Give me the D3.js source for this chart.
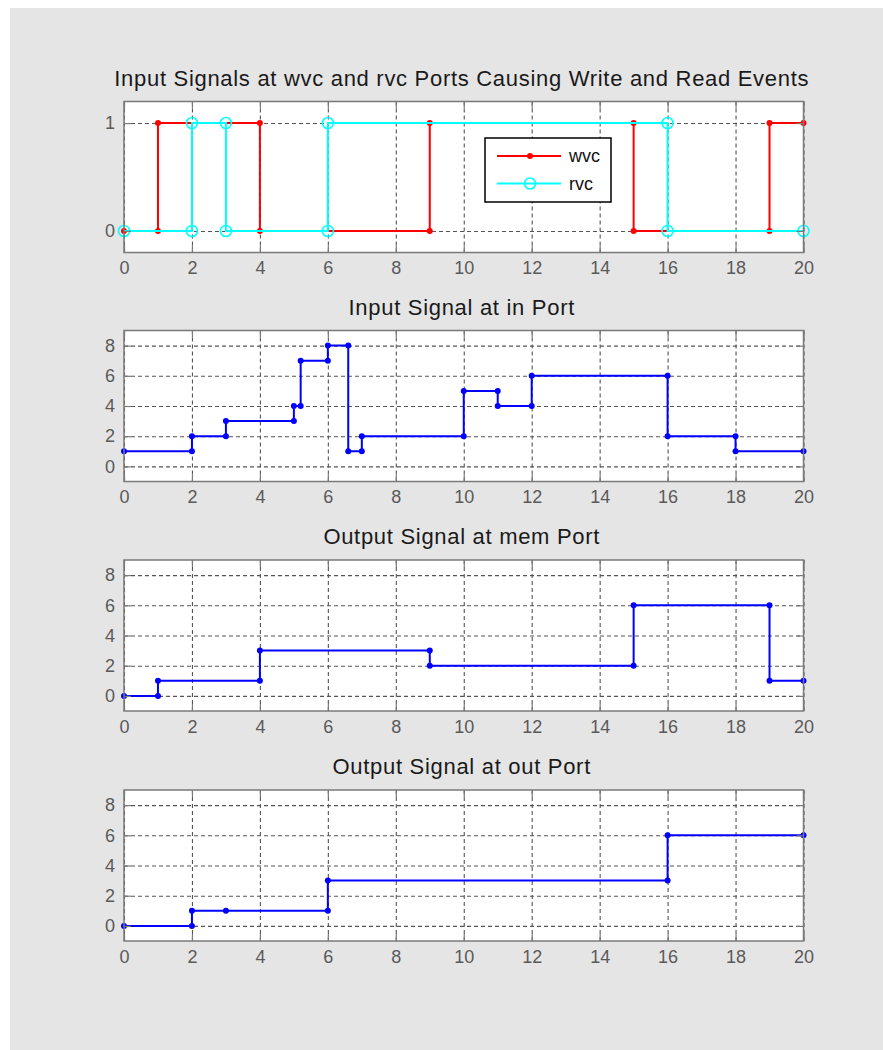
<!DOCTYPE html>
<html lang="en">
<head>
  <meta charset="UTF-8">
  <title>Write and Read Events</title>
  <style>
    body { margin: 0; background: #fff; font-family: "Liberation Sans", Arial, sans-serif; }
    .grid line { stroke: #555; stroke-width: 1.1; stroke-dasharray: 4,3; }
    .tick-axis line { stroke: #7a7a7a; stroke-width: 1.2; }
    .tick-axis text { fill: #5a5a5a; font-size: 18px; font-family: "Liberation Sans", Arial, sans-serif; }
    .title { fill: #1a1a1a; font-size: 22px; text-anchor: middle; letter-spacing: 0.7px; }
  </style>
  <script src="https://d3js.org/d3.v7.min.js"></script>
</head>
<body>
  <div id="chart"></div>
  <script>
    // stair vertices as recorded (time, value)
    const wvcT = [0, 1, 1, 4, 4, 9, 9, 15, 15, 19, 19, 20];
    const wvcV = [0, 0, 1, 1, 0, 0, 1, 1, 0, 0, 1, 1];
    const rvcT = [0, 2, 2, 3, 3, 6, 6, 16, 16, 20];
    const rvcV = [0, 0, 1, 1, 0, 0, 1, 1, 0, 0];
    const inT = [0, 2, 2, 3, 3, 5, 5, 5.2, 5.2, 6, 6, 6.6, 6.6, 7, 7, 10, 10, 11, 11, 12, 12, 16, 16, 18, 18, 20];
    const inV = [1, 1, 2, 2, 3, 3, 4, 4, 7, 7, 8, 8, 1, 1, 2, 2, 5, 5, 4, 4, 6, 6, 2, 2, 1, 1];
    const memT = [0, 1, 1, 4, 4, 9, 9, 15, 15, 19, 19, 20];
    const memV = [0, 0, 1, 1, 3, 3, 2, 2, 6, 6, 1, 1];
    const outT = [0, 2, 2, 3, 6, 6, 16, 16, 20];
    const outV = [0, 0, 1, 1, 1, 3, 3, 6, 6];

    const xTicks = [0, 2, 4, 6, 8, 10, 12, 14, 16, 18, 20];
    const eventTicks = [0, 1];
    const levelTicks = [0, 2, 4, 6, 8];

    const titles = [
      "Input Signals at wvc and rvc Ports Causing Write and Read Events",
      "Input Signal at in Port",
      "Output Signal at mem Port",
      "Output Signal at out Port"
    ];

    const W = 883, H = 1050;
    const left = 124, right = 803.5;
    const tops = [101.5, 330.5, 560, 790];
    const ph = 151;

    const svg = d3.select("#chart").append("svg")
        .attr("width", W).attr("height", H);

    svg.append("rect").attr("x", 10).attr("y", 8)
        .attr("width", W - 10).attr("height", H - 8).attr("fill", "#e5e5e5");

    const x = d3.scaleLinear().domain([0, 20]).range([left, right]);
    const fmt = d3.format("d");

    const panels = [
      { yDomain: [-0.2, 1.2], yTicks: eventTicks, series: [
        { t: wvcT, v: wvcV, color: "#ff0000", marker: "dot" },
        { t: rvcT, v: rvcV, color: "#00ffff", marker: "circle" }] },
      { yDomain: [-1, 9], yTicks: levelTicks, series: [{ t: inT, v: inV, color: "#0000ff", marker: "dot" }] },
      { yDomain: [-1, 9], yTicks: levelTicks, series: [{ t: memT, v: memV, color: "#0000ff", marker: "dot" }] },
      { yDomain: [-1, 9], yTicks: levelTicks, series: [{ t: outT, v: outV, color: "#0000ff", marker: "dot" }] }
    ];

    panels.forEach((p, i) => {
      const top = tops[i], bottom = top + ph;
      const y = d3.scaleLinear().domain(p.yDomain).range([bottom, top]);
      const g = svg.append("g");

      g.append("rect").attr("x", left).attr("y", top)
          .attr("width", right - left).attr("height", ph).attr("fill", "#fff");

      // dashed grid
      g.append("g").attr("class", "grid")
          .attr("transform", `translate(0,${bottom})`)
          .call(d3.axisBottom(x).tickValues(xTicks).tickSize(-ph).tickFormat(""))
          .call(s => s.select(".domain").remove());
      g.append("g").attr("class", "grid")
          .attr("transform", `translate(${left},0)`)
          .call(d3.axisLeft(y).tickValues(p.yTicks).tickSize(-(right - left)).tickFormat(""))
          .call(s => s.select(".domain").remove());

      // data
      p.series.forEach(s => {
        const pts = s.t.map((t, k) => [t, s.v[k]]);
        g.append("path")
            .attr("d", d3.line().x(d => x(d[0])).y(d => y(d[1]))(pts))
            .attr("fill", "none").attr("stroke", s.color).attr("stroke-width", 2);
        g.selectAll(null).data(pts).join("circle")
            .attr("cx", d => x(d[0])).attr("cy", d => y(d[1]))
            .attr("r", s.marker === "circle" ? 5.5 : 3)
            .attr("fill", s.marker === "circle" ? "none" : s.color)
            .attr("stroke", s.color)
            .attr("stroke-width", s.marker === "circle" ? 1.6 : 0);
      });

      // ticks and labels
      g.append("g").attr("class", "tick-axis")
          .attr("transform", `translate(0,${bottom})`)
          .call(d3.axisBottom(x).tickValues(xTicks).tickSize(-7).tickPadding(9).tickFormat(fmt))
          .call(s => s.select(".domain").remove());
      g.append("g").attr("class", "tick-axis")
          .attr("transform", `translate(0,${top})`)
          .call(d3.axisTop(x).tickValues(xTicks).tickSize(-7).tickFormat(""))
          .call(s => s.select(".domain").remove());
      g.append("g").attr("class", "tick-axis")
          .attr("transform", `translate(${left},0)`)
          .call(d3.axisLeft(y).tickValues(p.yTicks).tickSize(-7).tickPadding(9).tickFormat(fmt))
          .call(s => s.select(".domain").remove());
      g.append("g").attr("class", "tick-axis")
          .attr("transform", `translate(${right},0)`)
          .call(d3.axisRight(y).tickValues(p.yTicks).tickSize(-7).tickFormat(""))
          .call(s => s.select(".domain").remove());

      g.append("rect").attr("x", left).attr("y", top)
          .attr("width", right - left).attr("height", ph)
          .attr("fill", "none").attr("stroke", "#7a7a7a").attr("stroke-width", 1.5);

      g.append("text").attr("class", "title")
          .attr("x", (left + right) / 2 - 2).attr("y", top - 16)
          .text(titles[i]);

      if (i === 0) {
        const lg = g.append("g").attr("transform", "translate(485,138)");
        lg.append("rect").attr("width", 126).attr("height", 64)
            .attr("fill", "#fff").attr("stroke", "#000").attr("stroke-width", 1.5);
        p.series.forEach((s, k) => {
          const ly = 18 + k * 27.5;
          lg.append("line").attr("x1", 12).attr("x2", 76).attr("y1", ly).attr("y2", ly)
              .attr("stroke", s.color).attr("stroke-width", 2);
          lg.append("circle").attr("cx", 45).attr("cy", ly)
              .attr("r", s.marker === "circle" ? 5.5 : 3)
              .attr("fill", s.marker === "circle" ? "none" : s.color)
              .attr("stroke", s.color).attr("stroke-width", s.marker === "circle" ? 1.6 : 0);
          lg.append("text").attr("x", 84).attr("y", ly).attr("dy", "0.35em")
              .attr("font-size", 18).attr("fill", "#111")
              .text(k === 0 ? "wvc" : "rvc");
        });
      }
    });
  </script>
</body>
</html>
